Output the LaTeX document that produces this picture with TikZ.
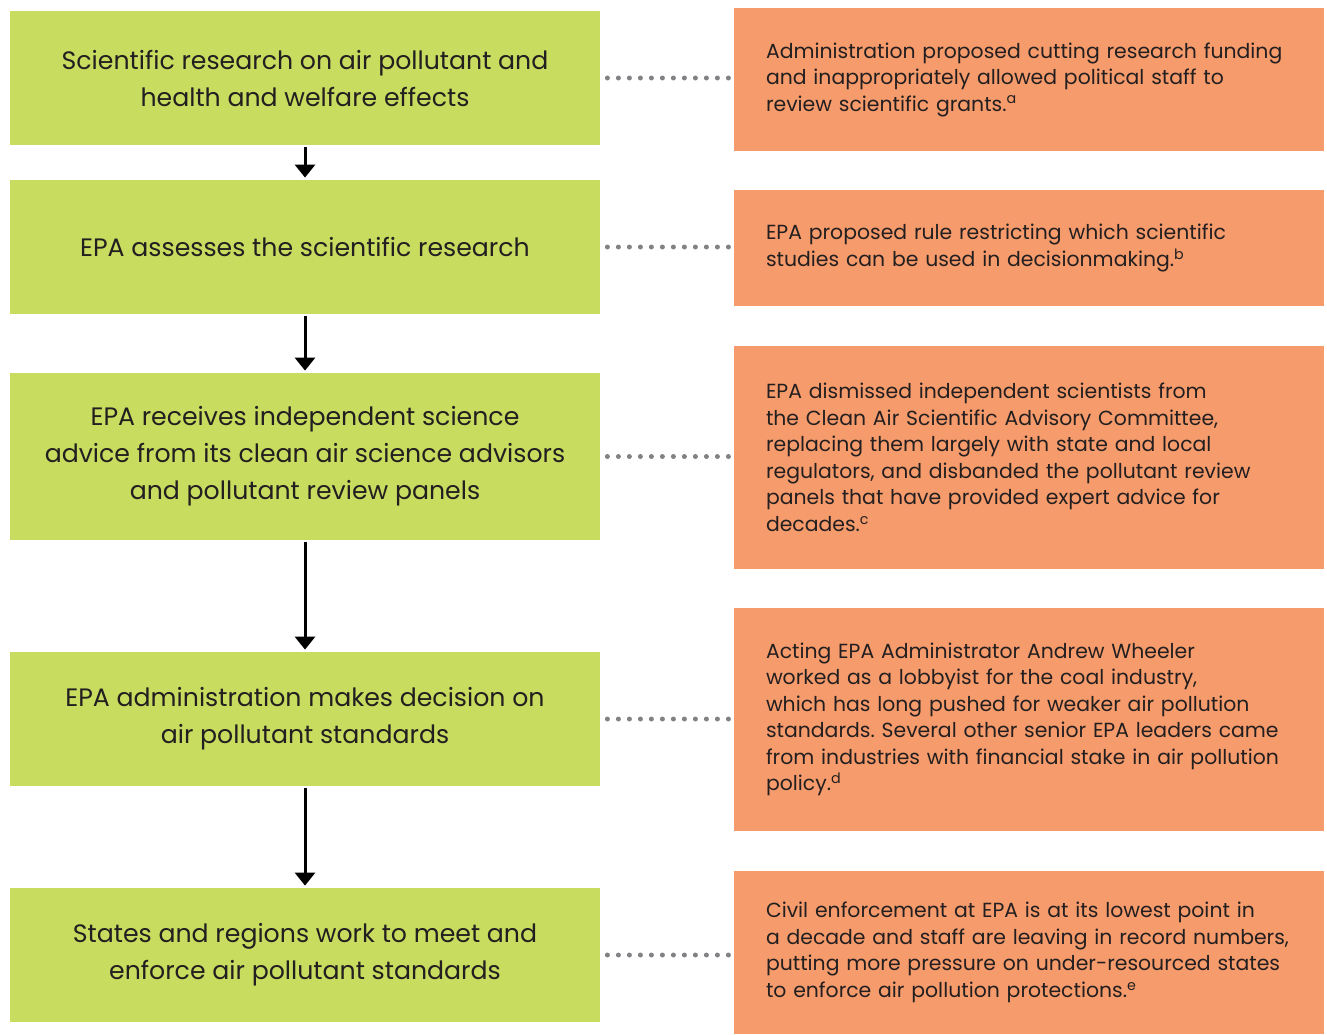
\documentclass[tikz,border=0pt]{standalone}
\usepackage{fontspec}
\setmainfont{Poppins}
\usetikzlibrary{arrows.meta}
\definecolor{stepgreen}{HTML}{C8DC5F}
\definecolor{noteorange}{HTML}{F69B6B}
\definecolor{dotgray}{HTML}{808285}
\definecolor{inkdark}{HTML}{231F20}
\frenchspacing
\tikzset{
  stage/.style={fill=stepgreen, minimum width=295pt, inner sep=0pt, align=center,
    text=inkdark, font=\fontsize{12.6pt}{18.5pt}\selectfont},
  note/.style={fill=noteorange, minimum width=295pt, inner xsep=16pt, inner ysep=0pt,
    text width=263pt, align=left, text=inkdark, font=\fontsize{10.2pt}{13.25pt}\selectfont},
  flow/.style={line width=1.5pt, -{Triangle[width=10pt,length=6.5pt]}, shorten <=1pt, shorten >=1pt},
  link/.style={dotgray, line width=2.5pt, line cap=round, dash pattern=on 0pt off 5.5pt,
    shorten <=3.5pt, shorten >=2.5pt}
}
\begin{document}
\begin{tikzpicture}[x=0.5pt,y=-0.5pt]
\useasboundingbox (0,0) rectangle (1327,1034);

\node[stage, minimum height=67pt] (g1) at (305,78) {Scientific research on air pollutant and\\health and welfare effects};
\node[stage, minimum height=67pt] (g2) at (305,247) {EPA assesses the scientific research};
\node[stage, minimum height=83.5pt] (g3) at (305,456.5) {EPA receives independent science\\advice from its clean air science advisors\\and pollutant review panels};
\node[stage, minimum height=67pt] (g4) at (305,719) {EPA administration makes decision on\\air pollutant standards};
\node[stage, minimum height=67pt] (g5) at (305,955) {States and regions work to meet and\\enforce air pollutant standards};

\node[note, minimum height=71.5pt] (o1) at (1029,79.5) {Administration proposed cutting research funding\\and inappropriately allowed political staff to\\review scientific grants.\textsuperscript{a}};
\node[note, minimum height=58pt] (o2) at (1029,248) {EPA proposed rule restricting which scientific\\studies can be used in decisionmaking.\textsuperscript{b}};
\node[note, minimum height=111.5pt] (o3) at (1029,457.5) {EPA dismissed independent scientists from\\the Clean Air Scientific Advisory Committee,\\replacing them largely with state and local\\regulators, and disbanded the pollutant review\\panels that have provided expert advice for\\decades.\textsuperscript{c}};
\node[note, minimum height=111.5pt] (o4) at (1029,719.5) {Acting EPA Administrator Andrew Wheeler\\worked as a lobbyist for the coal industry,\\which has long pushed for weaker air pollution\\standards. Several other senior EPA leaders came\\from industries with financial stake in air pollution\\policy.\textsuperscript{d}};
\node[note, minimum height=81.5pt] (o5) at (1029,952.5) {Civil enforcement at EPA is at its lowest point in\\a decade and staff are leaving in record numbers,\\putting more pressure on under-resourced states\\to enforce air pollution protections.\textsuperscript{e}};

\draw[flow] (g1) -- (g2);
\draw[flow] (g2) -- (g3);
\draw[flow] (g3) -- (g4);
\draw[flow] (g4) -- (g5);

\draw[link] (g1.east) -- (g1.east -| o1.west);
\draw[link] (g2.east) -- (g2.east -| o2.west);
\draw[link] (g3.east) -- (g3.east -| o3.west);
\draw[link] (g4.east) -- (g4.east -| o4.west);
\draw[link] (g5.east) -- (g5.east -| o5.west);
\end{tikzpicture}
\end{document}
